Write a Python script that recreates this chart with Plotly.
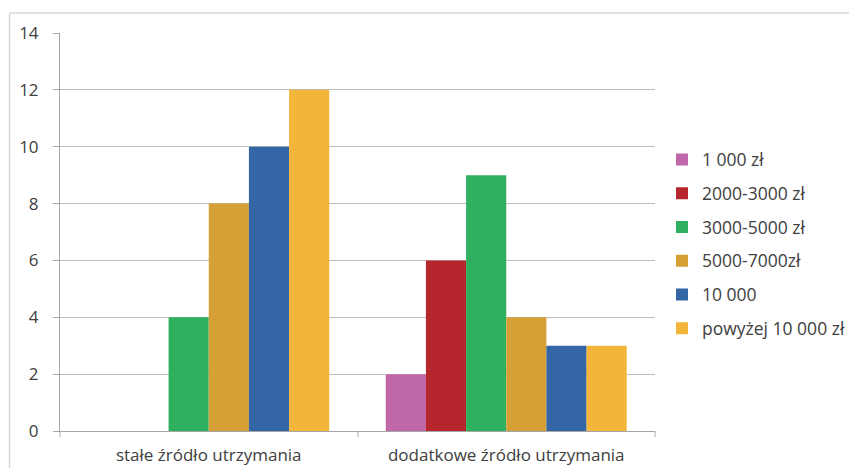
import plotly.graph_objects as go

# Categories and income brackets
categories = ["stałe źródło utrzymania", "dodatkowe źródło utrzymania"]
series_names = ["1 000 zł", "2000-3000 zł", "3000-5000 zł", "5000-7000zł", "10 000", "powyżej 10 000 zł"]
values_1000 = [None, 2]
values_2000_3000 = [None, 6]
values_3000_5000 = [4, 9]
values_5000_7000 = [8, 4]
values_10000 = [10, 3]
values_above_10000 = [12, 3]
y_ticks = [0, 2, 4, 6, 8, 10, 12, 14]

series_values = [values_1000, values_2000_3000, values_3000_5000,
                 values_5000_7000, values_10000, values_above_10000]
colors = ["#C067A9", "#B5272D", "#2FB05F", "#D5A035", "#3465A5", "#F3B63A"]

FONT = "Open Sans"
TEXT = "#404040"
FS = 17

fig = go.Figure()
for i, (name, vals, col) in enumerate(zip(series_names, series_values, colors)):
    fig.add_trace(go.Bar(
        x=categories, y=vals, name=name,
        marker=dict(color=col, line=dict(width=0)),
        legendgroup=f"g{i}",
    ))

# plot area: x 60..655, y 33..431 in a 849x468 page
L, R, T, B = 60, 194, 33, 37
W, H = 849 - L - R, 468 - T - B

def px(x):
    return (x - L) / W

def py(y):
    return (468 - B - y) / H

fig.update_layout(
    width=849, height=468,
    margin=dict(l=L, r=R, t=T, b=B, pad=0, autoexpand=False),
    paper_bgcolor="white", plot_bgcolor="white",
    barmode="group", bargap=0.19, bargroupgap=0,
    font=dict(family=FONT, size=FS, color=TEXT),
    legend=dict(
        x=px(662), xanchor="left", y=py(244), yanchor="middle",
        font=dict(family=FONT, size=17.5, color=TEXT),
        tracegroupgap=8, traceorder="grouped",
        bgcolor="rgba(0,0,0,0)",
    ),
    xaxis=dict(
        showgrid=False, showline=True, linecolor="#A6A6A6", linewidth=1,
        ticks="", tickfont=dict(family=FONT, size=FS, color=TEXT),
        ticklabelstandoff=9, automargin=False,
    ),
    yaxis=dict(
        range=[0, 14], tickvals=y_ticks, showgrid=True, gridcolor="#BDBDBD", gridwidth=1,
        showline=True, linecolor="#A6A6A6", linewidth=1, zeroline=False,
        ticks="outside", ticklen=6, tickcolor="#A6A6A6",
        tickfont=dict(family=FONT, size=FS, color=TEXT),
        ticklabelstandoff=11, automargin=False,
    ),
)

# category divider ticks below the horizontal axis
for xv in [60, 358, 655]:
    fig.add_shape(type="line", xref="paper", yref="paper",
                  x0=px(xv), x1=px(xv), y0=py(431), y1=py(437),
                  line=dict(color="#A6A6A6", width=1))

# chart frame (top and left edges)
fig.add_shape(type="line", xref="paper", yref="paper",
              x0=px(9.5), x1=px(849), y0=py(13), y1=py(13),
              line=dict(color="#D9D9D9", width=1.5))
fig.add_shape(type="line", xref="paper", yref="paper",
              x0=px(9.5), x1=px(9.5), y0=py(13), y1=py(468),
              line=dict(color="#D9D9D9", width=1.5))

fig.write_html("out.html")
